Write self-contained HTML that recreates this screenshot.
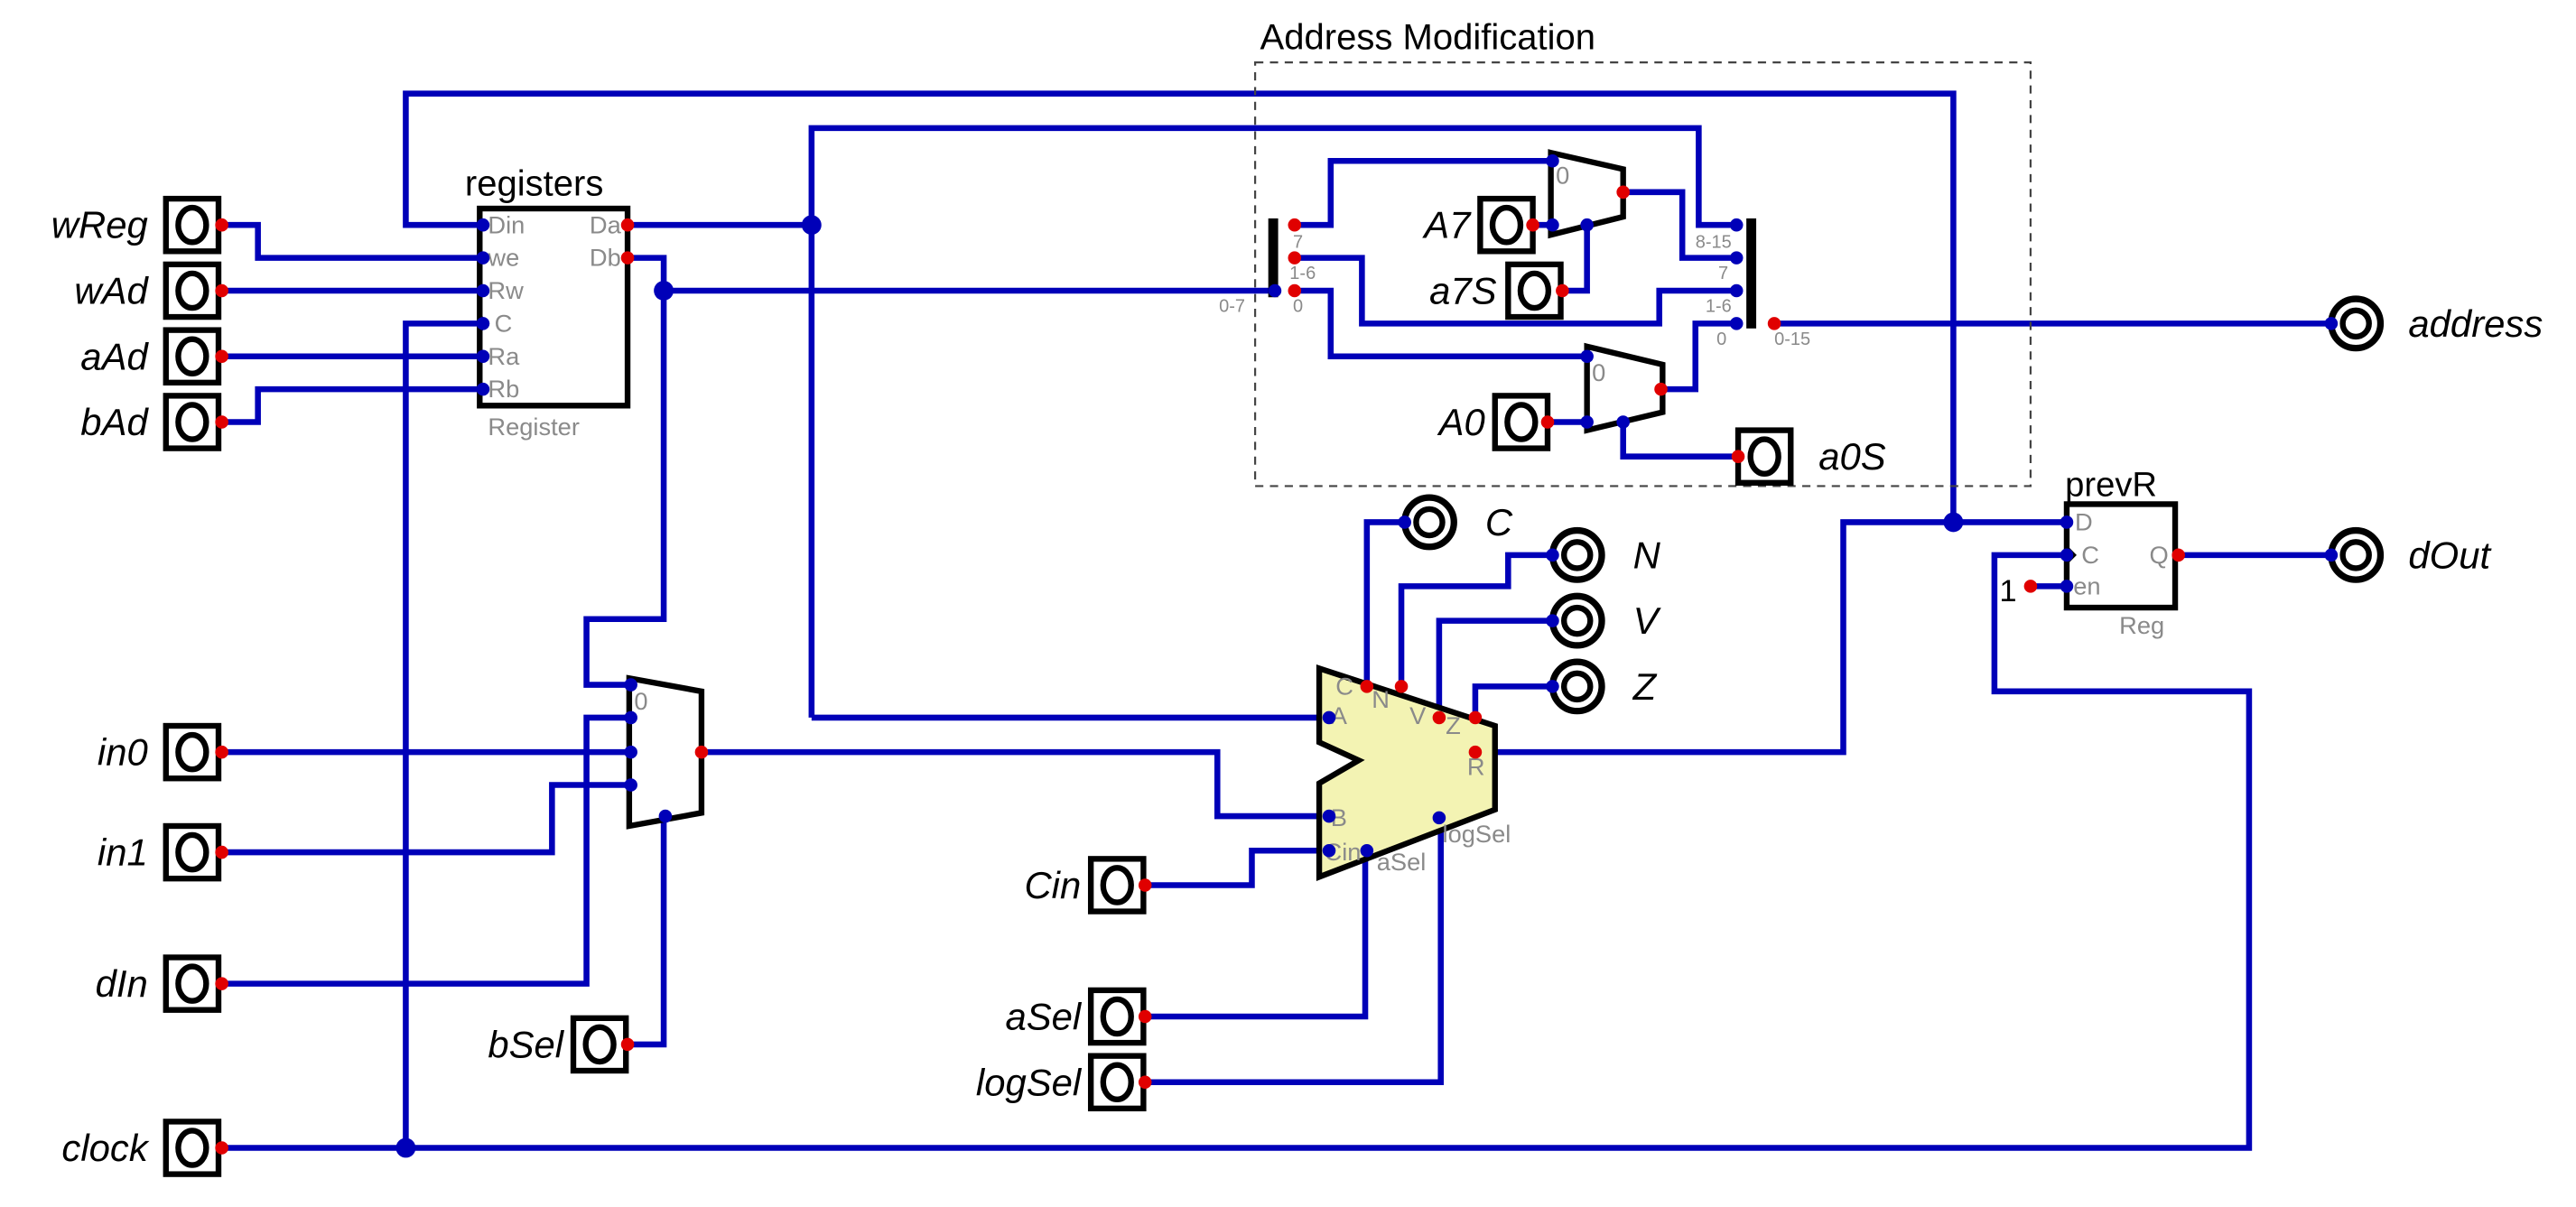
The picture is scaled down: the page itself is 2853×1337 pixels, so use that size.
<!DOCTYPE html>
<html><head><meta charset="utf-8"><style>
html,body{margin:0;padding:0;background:#fff;}
svg{display:block;}
text{font-family:"Liberation Sans","DejaVu Sans",sans-serif;}
.lbl{font-style:italic;font-size:23px;fill:#000;}
.g{fill:#8a8a8a;font-size:15px;}
.s{fill:#8a8a8a;font-size:11px;}
</style></head><body>
<svg width="2853" height="1337" viewBox="0 0 1568 735" preserveAspectRatio="none" xmlns="http://www.w3.org/2000/svg">
<g fill="none" stroke="#0000b8" stroke-width="3.6" stroke-linejoin="miter">
<polyline points="294,137 247,137 247,57 1189,57 1189,318"/>
<polyline points="1258,318 1122,318 1122,458 910,458"/>
<polyline points="135,699 1369,699 1369,421 1214,421 1214,338 1258,338"/>
<polyline points="247,699 247,197 294,197"/>
<polyline points="135,137 157,137 157,157 294,157"/>
<polyline points="135,177 294,177"/>
<polyline points="135,217 294,217"/>
<polyline points="135,257 157,257 157,237 294,237"/>
<polyline points="382,137 494,137"/>
<polyline points="494,437 494,78 1034,78 1034,137 1055,137"/>
<polyline points="494,437 806,437"/>
<polyline points="382,157 404,157 404,377 357,377 357,417 384,417"/>
<polyline points="404,177 776,177"/>
<polyline points="135,458 384,458"/>
<polyline points="135,519 336,519 336,478 384,478"/>
<polyline points="135,599 357,599 357,437 384,437"/>
<polyline points="382,636 404,636 404,497"/>
<polyline points="427,458 741,458 741,497 806,497"/>
<polyline points="697,539 762,539 762,518 806,518"/>
<polyline points="697,619 831,619 831,518"/>
<polyline points="697,659 877,659 877,497"/>
<polyline points="832,418 832,318 855,318"/>
<polyline points="853,418 853,357 918,357 918,338 945,338"/>
<polyline points="876,437 876,378 945,378"/>
<polyline points="898,437 898,418 945,418"/>
<polyline points="788,137 810,137 810,98 945,98"/>
<polyline points="788,157 829,157 829,197 1010,197 1010,177 1055,177"/>
<polyline points="788,177 810,177 810,217 966,217"/>
<polyline points="933,137 945,137"/>
<polyline points="988,117 1024,117 1024,157 1055,157"/>
<polyline points="966,137 966,177 951,177"/>
<polyline points="942,257 966,257"/>
<polyline points="1011,237 1032,237 1032,197 1055,197"/>
<polyline points="988,257 988,278 1058,278"/>
<polyline points="1079,197 1420,197"/>
<polyline points="1326,338 1420,338"/>
<polyline points="1236,357 1258,357"/>
</g>
<rect x="764" y="38" width="472" height="258" fill="none" stroke="#444" stroke-width="1.2" stroke-dasharray="5,4"/>
<text x="767" y="30" font-size="22" fill="#000">Address Modification</text>
<rect x="292" y="127" width="90" height="120" fill="none" stroke="#000" stroke-width="3.5"/>
<text x="283" y="119" font-size="22">registers</text>
<polyline points="292,192 297,197 292,202" fill="none" stroke="#000" stroke-width="1.5"/>
<g class="g"><text x="297" y="142">Din</text><text x="297" y="162">we</text><text x="297" y="182">Rw</text><text x="301" y="202">C</text><text x="297" y="222">Ra</text><text x="297" y="242">Rb</text>
<text x="378" y="142" text-anchor="end">Da</text><text x="378" y="162" text-anchor="end">Db</text><text x="297" y="265">Register</text></g>
<polygon points="383,413 427,421 427,495 383,503" fill="none" stroke="#000" stroke-width="3.5"/>
<text x="386" y="432" class="g">0</text>
<polygon points="944,93 988,103 988,132 944,143" fill="none" stroke="#000" stroke-width="3.5"/>
<text x="947" y="112" class="g">0</text>
<polygon points="966,211 1012,222 1012,251 966,262" fill="none" stroke="#000" stroke-width="3.5"/>
<text x="969" y="232" class="g">0</text>
<rect x="772" y="133" width="6" height="48" fill="#000"/>
<rect x="1063" y="133" width="6" height="67" fill="#000"/>
<g class="s"><text x="787" y="151">7</text><text x="785" y="170">1-6</text><text x="787" y="190">0</text><text x="742" y="190">0-7</text>
<text x="1054" y="151" text-anchor="end">8-15</text><text x="1052" y="170" text-anchor="end">7</text><text x="1054" y="190" text-anchor="end">1-6</text><text x="1051" y="210" text-anchor="end">0</text><text x="1080" y="210">0-15</text></g>
<polygon points="803,407 910,442 910,493 803,534 803,477 827,463 803,452" fill="#f3f3b3" stroke="#000" stroke-width="3.5"/>
<g class="g"><text x="813" y="423">C</text><text x="835" y="431">N</text><text x="858" y="441">V</text><text x="880" y="447">Z</text><text x="810" y="441">A</text><text x="893" y="472">R</text><text x="810" y="503">B</text><text x="806" y="524">Cin</text><text x="838" y="530">aSel</text><text x="878" y="513">logSel</text></g>
<rect x="1258" y="307" width="66" height="63" fill="none" stroke="#000" stroke-width="3.5"/>
<text x="1257" y="302" font-size="21">prevR</text>
<polyline points="1258,333 1263,338 1258,343" fill="none" stroke="#000" stroke-width="1.5"/>
<g class="g"><text x="1263" y="323">D</text><text x="1267" y="343">C</text><text x="1262" y="362">en</text><text x="1320" y="343" text-anchor="end">Q</text><text x="1290" y="386">Reg</text></g>
<text x="1217" y="366" font-size="19">1</text>
<g fill="none" stroke="#000" stroke-width="3.5">
<rect x="101" y="121" width="32" height="32"/><ellipse cx="117" cy="137" rx="8.5" ry="10.5"/>
<rect x="101" y="161" width="32" height="32"/><ellipse cx="117" cy="177" rx="8.5" ry="10.5"/>
<rect x="101" y="201" width="32" height="32"/><ellipse cx="117" cy="217" rx="8.5" ry="10.5"/>
<rect x="101" y="241" width="32" height="32"/><ellipse cx="117" cy="257" rx="8.5" ry="10.5"/>
<rect x="101" y="442" width="32" height="32"/><ellipse cx="117" cy="458" rx="8.5" ry="10.5"/>
<rect x="101" y="503" width="32" height="32"/><ellipse cx="117" cy="519" rx="8.5" ry="10.5"/>
<rect x="101" y="583" width="32" height="32"/><ellipse cx="117" cy="599" rx="8.5" ry="10.5"/>
<rect x="101" y="683" width="32" height="32"/><ellipse cx="117" cy="699" rx="8.5" ry="10.5"/>
<rect x="349" y="620" width="32" height="32"/><ellipse cx="365" cy="636" rx="8.5" ry="10.5"/>
<rect x="664" y="523" width="32" height="32"/><ellipse cx="680" cy="539" rx="8.5" ry="10.5"/>
<rect x="664" y="603" width="32" height="32"/><ellipse cx="680" cy="619" rx="8.5" ry="10.5"/>
<rect x="664" y="643" width="32" height="32"/><ellipse cx="680" cy="659" rx="8.5" ry="10.5"/>
<rect x="901" y="121" width="32" height="32"/><ellipse cx="917" cy="137" rx="8.5" ry="10.5"/>
<rect x="918" y="161" width="32" height="32"/><ellipse cx="934" cy="177" rx="8.5" ry="10.5"/>
<rect x="910" y="241" width="32" height="32"/><ellipse cx="926" cy="257" rx="8.5" ry="10.5"/>
<rect x="1058" y="262" width="32" height="32"/><ellipse cx="1074" cy="278" rx="8.5" ry="10.5"/>
</g>
<g fill="none" stroke="#000">
<circle cx="870" cy="318" r="15" stroke-width="4"/><circle cx="870" cy="318" r="8" stroke-width="3.5"/>
<circle cx="960" cy="338" r="15" stroke-width="4"/><circle cx="960" cy="338" r="8" stroke-width="3.5"/>
<circle cx="960" cy="378" r="15" stroke-width="4"/><circle cx="960" cy="378" r="8" stroke-width="3.5"/>
<circle cx="960" cy="418" r="15" stroke-width="4"/><circle cx="960" cy="418" r="8" stroke-width="3.5"/>
<circle cx="1434" cy="197" r="15" stroke-width="4"/><circle cx="1434" cy="197" r="8" stroke-width="3.5"/>
<circle cx="1434" cy="338" r="15" stroke-width="4"/><circle cx="1434" cy="338" r="8" stroke-width="3.5"/>
</g>
<g class="lbl">
<text x="90" y="145" text-anchor="end">wReg</text><text x="90" y="185" text-anchor="end">wAd</text><text x="90" y="225" text-anchor="end">aAd</text><text x="90" y="265" text-anchor="end">bAd</text>
<text x="90" y="466" text-anchor="end">in0</text><text x="90" y="527" text-anchor="end">in1</text><text x="90" y="607" text-anchor="end">dIn</text><text x="90" y="707" text-anchor="end">clock</text>
<text x="343" y="644" text-anchor="end">bSel</text><text x="658" y="547" text-anchor="end">Cin</text><text x="658" y="627" text-anchor="end">aSel</text><text x="658" y="667" text-anchor="end">logSel</text>
<text x="895" y="145" text-anchor="end">A7</text><text x="911" y="185" text-anchor="end">a7S</text><text x="904" y="265" text-anchor="end">A0</text><text x="1107" y="286">a0S</text>
<text x="904" y="326">C</text><text x="994" y="346">N</text><text x="994" y="386">V</text><text x="994" y="426">Z</text>
<text x="1466" y="205">address</text><text x="1466" y="346">dOut</text>
</g>
<g fill="#0000b8">
<circle cx="294" cy="137" r="4"/><circle cx="294" cy="157" r="4"/><circle cx="294" cy="177" r="4"/><circle cx="294" cy="197" r="4"/><circle cx="294" cy="217" r="4"/><circle cx="294" cy="237" r="4"/>
<circle cx="384" cy="417" r="4"/><circle cx="384" cy="437" r="4"/><circle cx="384" cy="458" r="4"/><circle cx="384" cy="478" r="4"/><circle cx="405" cy="497" r="4"/>
<circle cx="809" cy="437" r="4"/><circle cx="809" cy="497" r="4"/><circle cx="809" cy="518" r="4"/><circle cx="832" cy="518" r="4"/><circle cx="876" cy="498" r="4"/>
<circle cx="855" cy="318" r="4"/><circle cx="945" cy="338" r="4"/><circle cx="945" cy="378" r="4"/><circle cx="945" cy="418" r="4"/>
<circle cx="1419" cy="197" r="4"/><circle cx="1419" cy="338" r="4"/>
<circle cx="776" cy="177" r="4"/><circle cx="1057" cy="137" r="4"/><circle cx="1057" cy="157" r="4"/><circle cx="1057" cy="177" r="4"/><circle cx="1057" cy="197" r="4"/>
<circle cx="945" cy="98" r="4"/><circle cx="945" cy="137" r="4"/><circle cx="966" cy="137" r="4"/><circle cx="966" cy="217" r="4"/><circle cx="966" cy="257" r="4"/><circle cx="988" cy="257" r="4"/>
<circle cx="1258" cy="318" r="4"/><circle cx="1258" cy="338" r="4"/><circle cx="1258" cy="357" r="4"/>
<circle cx="494" cy="137" r="6"/><circle cx="404" cy="177" r="6"/><circle cx="247" cy="699" r="6"/><circle cx="1189" cy="318" r="6"/>
</g>
<g fill="#e00000">
<circle cx="135" cy="137" r="4"/><circle cx="135" cy="177" r="4"/><circle cx="135" cy="217" r="4"/><circle cx="135" cy="257" r="4"/>
<circle cx="135" cy="458" r="4"/><circle cx="135" cy="519" r="4"/><circle cx="135" cy="599" r="4"/><circle cx="135" cy="699" r="4"/>
<circle cx="382" cy="636" r="4"/><circle cx="697" cy="539" r="4"/><circle cx="697" cy="619" r="4"/><circle cx="697" cy="659" r="4"/>
<circle cx="382" cy="137" r="4"/><circle cx="382" cy="157" r="4"/><circle cx="427" cy="458" r="4"/>
<circle cx="832" cy="418" r="4"/><circle cx="853" cy="418" r="4"/><circle cx="876" cy="437" r="4"/><circle cx="898" cy="437" r="4"/><circle cx="898" cy="458" r="4"/>
<circle cx="788" cy="137" r="4"/><circle cx="788" cy="157" r="4"/><circle cx="788" cy="177" r="4"/><circle cx="1080" cy="197" r="4"/>
<circle cx="933" cy="137" r="4"/><circle cx="951" cy="177" r="4"/><circle cx="942" cy="257" r="4"/><circle cx="1058" cy="278" r="4"/>
<circle cx="988" cy="117" r="4"/><circle cx="1011" cy="237" r="4"/><circle cx="1326" cy="338" r="4"/><circle cx="1236" cy="357" r="4"/>
</g>
</svg>
</body></html>
